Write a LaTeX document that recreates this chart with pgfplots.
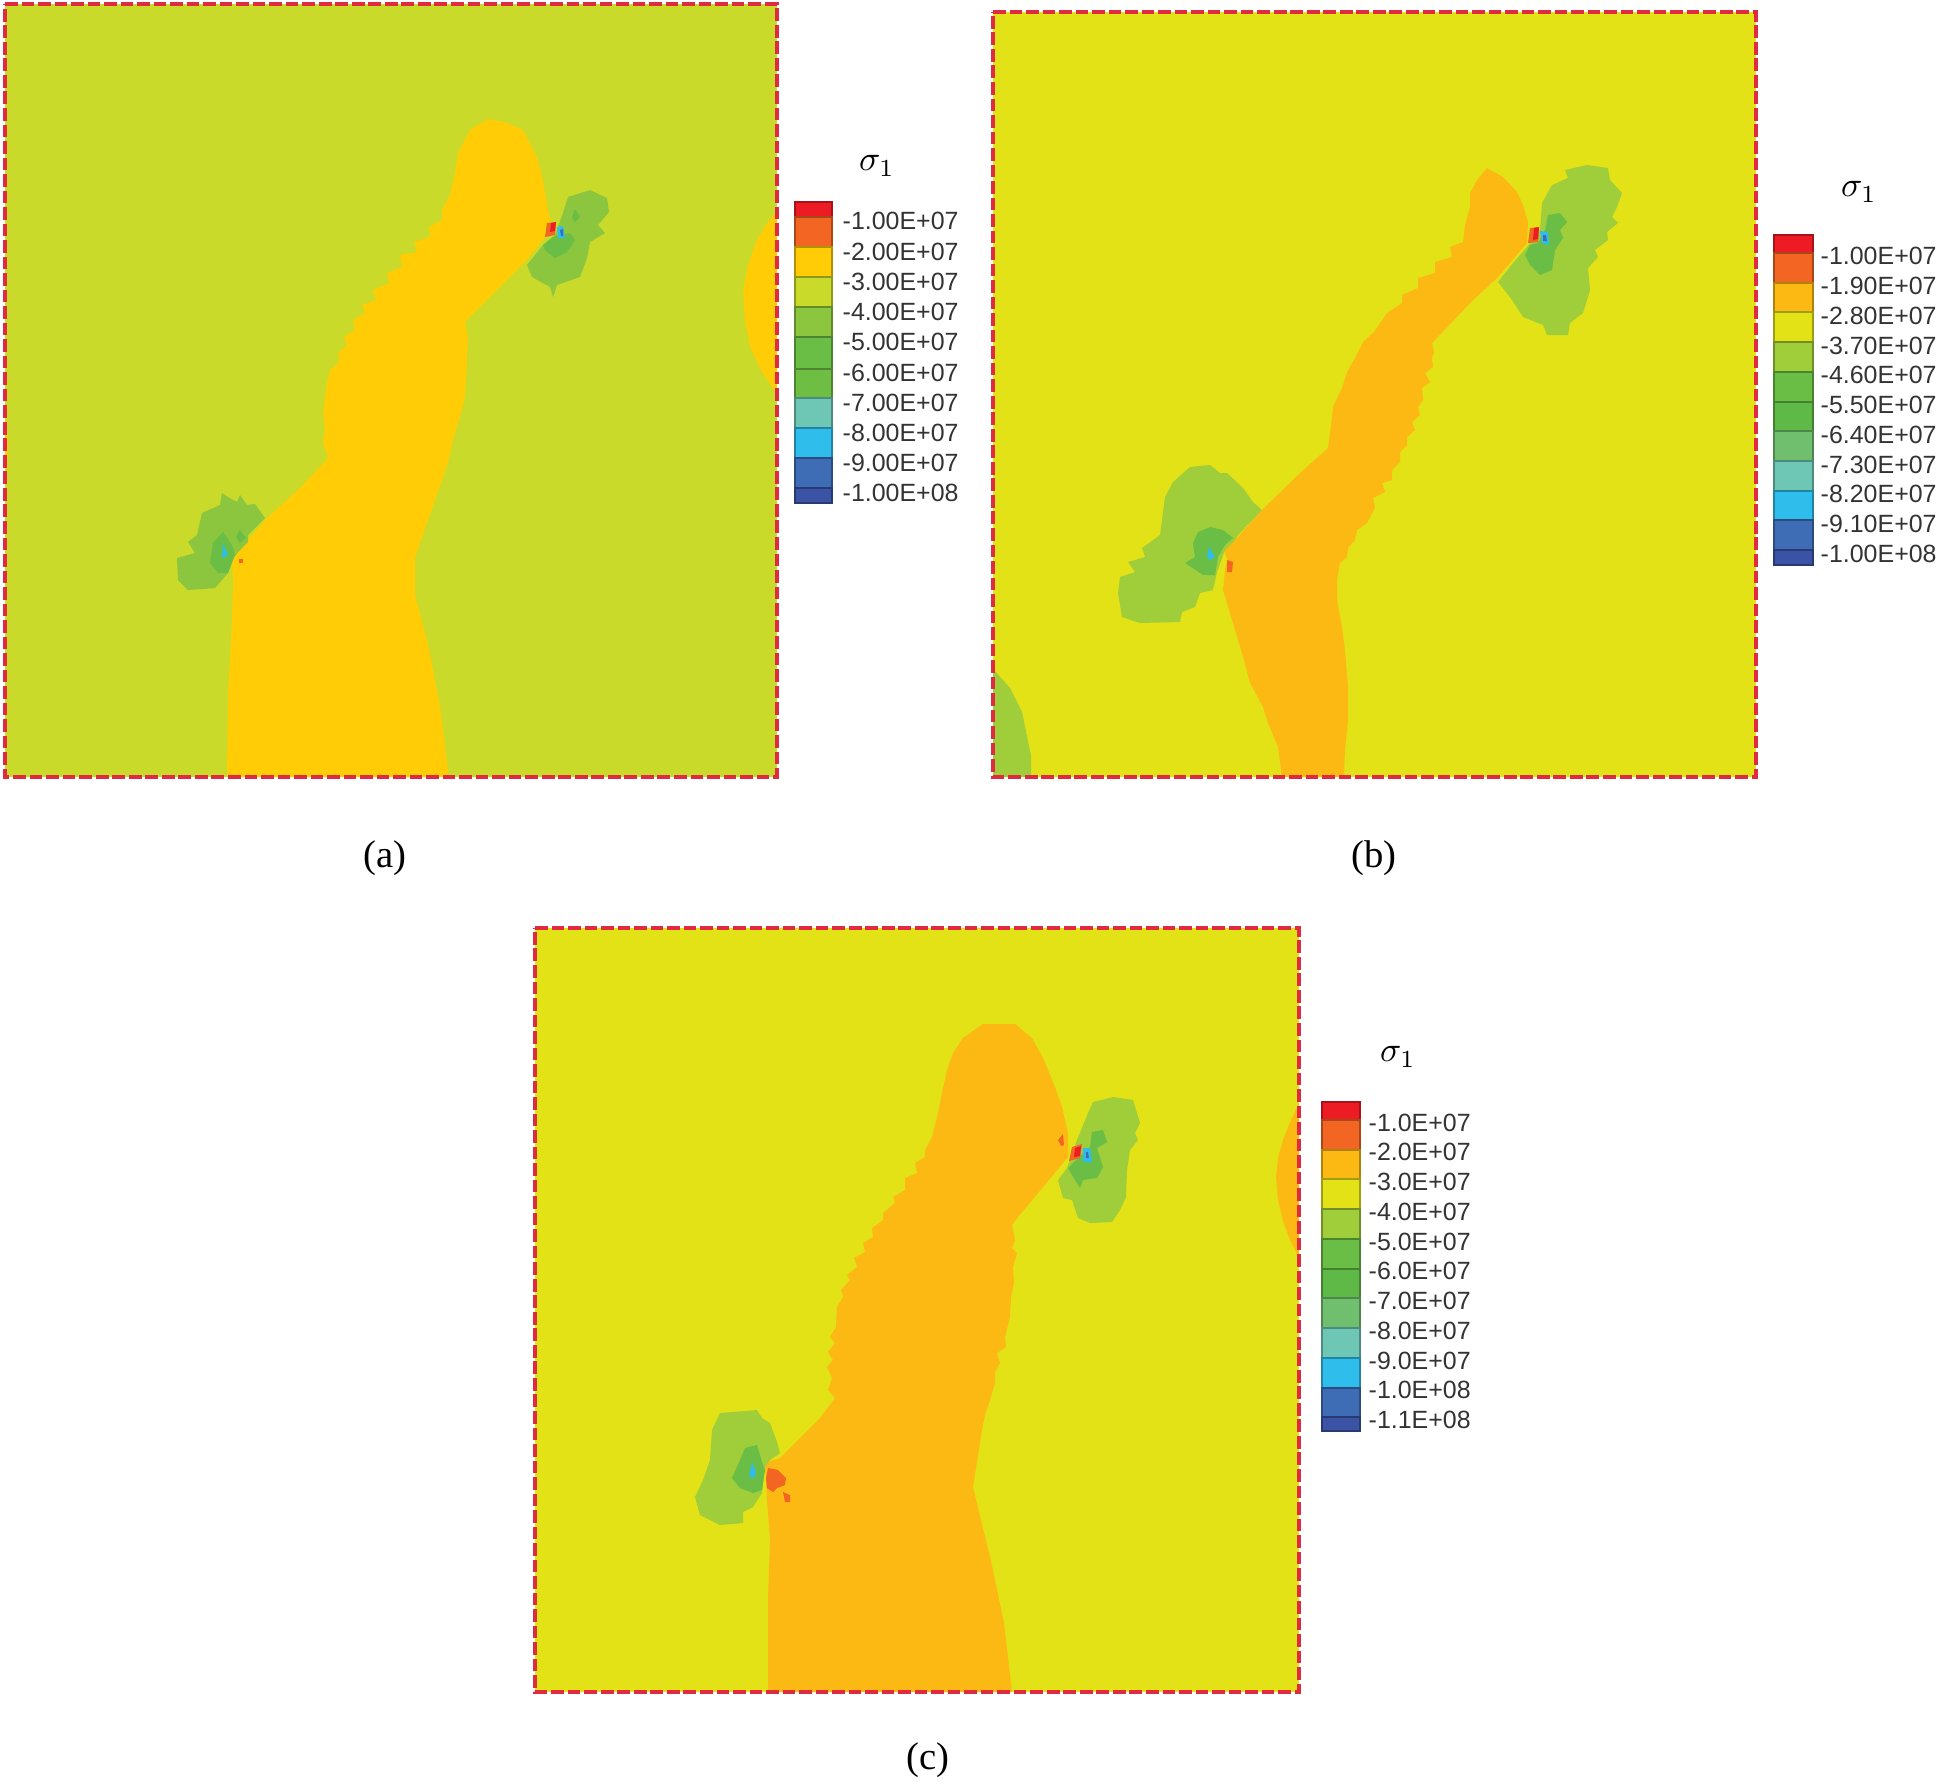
\documentclass[border=0pt]{standalone}
\usepackage{pgfplots}
\pgfplotsset{compat=1.18}
\usepackage{fontspec}
\setmainfont{Liberation Sans}
\newfontfamily\capfont{Liberation Serif}

\definecolor{cRed}{HTML}{ED1C24}
\definecolor{cOrg}{HTML}{F26522}
\definecolor{cGold}{HTML}{FFCC05}
\definecolor{cAmb}{HTML}{FDB913}
\definecolor{cLimeA}{HTML}{C9DA2A}
\definecolor{cLimeB}{HTML}{E3E217}
\definecolor{cLgA}{HTML}{8CC63F}
\definecolor{cLgB}{HTML}{A0CD3A}
\definecolor{cGrn}{HTML}{6ABD45}
\definecolor{cGrnA}{HTML}{6FBE44}
\definecolor{cGrnM}{HTML}{5FB946}
\definecolor{cGrn2}{HTML}{6FBF6F}
\definecolor{cTeal}{HTML}{6EC6B4}
\definecolor{cCyan}{HTML}{2FBDEC}
\definecolor{cBlue}{HTML}{3F6DB5}
\definecolor{cDark}{HTML}{3A53A4}
\definecolor{cFrame}{HTML}{DF2A3F}
\definecolor{cTxt}{HTML}{333333}

% all coordinates are pixels of the reference
\pgfplotsset{panel/.style={
  scale only axis, width=19.43cm, height=17.91cm,
  xmin=0, xmax=1943, ymin=0, ymax=1791, y dir=reverse,
  hide axis, clip=false}}
\newcommand\cell[5]{\addplot[fill=#1, draw=#1!70!black, line width=.35pt] coordinates {(#2,#4)(#3,#4)(#3,#5)(#2,#5)} --cycle;}
\newcommand\lab[3]{\node[anchor=west, inner sep=0pt, text=cTxt, font=\fontsize{7.1}{8}\selectfont] at (axis cs:#1,#2) {#3};}
\newcommand\sig[2]{\node[inner sep=0pt, text=black, font=\fontsize{10}{12}\selectfont] at (axis cs:#1,#2) {$\sigma_1$};}
\newcommand\capt[3]{\node[inner sep=0pt, text=black, font=\capfont\fontsize{11}{13}\selectfont] at (axis cs:#1,#2) {#3};}
\newcommand\frm[4]{\addplot[draw=cFrame, line width=1.1pt, dash pattern=on 3.6pt off 1.1pt] coordinates {(#1,#3)(#2,#3)(#2,#4)(#1,#4)} --cycle;}
\newcommand\bg[5]{\addplot[fill=#1, draw=none] coordinates {(#2,#4)(#3,#4)(#3,#5)(#2,#5)} --cycle;}

\begin{document}
\begin{tikzpicture}
% ---------- (a)
\begin{axis}[panel]
\addplot[draw=none] coordinates {(0,0)(1943,1791)}; % keeps the page at full size
\bg{cLimeA}{5}{777}{4}{777}
\addplot[fill=cGold, draw=none] coordinates {
 (227,777)(228,694)(232,620)(233,580)(232,560)(238,553)(248,540)(267,518)(300,488)(328,458)
 (323,443)(325,430)(323,415)(325,397)(327,382)(330,370)(339,362)(338,353)(347,345)(344,337)
 (355,330)(353,320)(365,313)(362,305)(376,300)(373,290)(389,283)(387,273)(402,267)(400,255)
 (417,252)(414,242)(430,237)(429,227)(442,220)(442,210)(450,195)(455,173)(458,153)(470,130)
 (488,119)(505,122)(523,130)(537,157)(543,180)(548,210)(551,222)(545,237)(527,260)(465,322)
 (468,337)(467,363)(465,397)(460,417)(453,440)(448,463)(442,480)(415,558)(415,595)(428,644)
 (440,706)(449,777)} --cycle;
\addplot[fill=cGold, draw=none] coordinates {(777,211)(765,226)(756,242)(748,265)(743,291)(745,320)(750,347)(762,372)(777,394)} --cycle;
\addplot[fill=cGold, draw=none] coordinates {(5,408)(8,440)(8,460)(5,478)} --cycle;
% upper crack tip
\addplot[fill=cLgA, draw=none] coordinates {
 (568,197)(590,190)(607,198)(609,212)(598,225)(605,233)(590,242)(587,258)(580,277)(557,285)
 (553,297)(550,287)(532,277)(527,265)(543,245)(555,235)(563,213)} --cycle;
\addplot[fill=cGrn, draw=none] coordinates {(543,245)(553,237)(570,233)(575,240)(567,252)(555,258)(545,250)} --cycle;
\addplot[fill=cGrn, draw=none] coordinates {(575,209)(580,217)(575,222)(572,217)} --cycle;
\addplot[fill=cOrg, draw=none] coordinates {(547,223)(556,222)(555,235)(545,237)} --cycle;
\addplot[fill=cRed, draw=none] coordinates {(551,223)(556,222)(555,231)(550,232)} --cycle;
\addplot[fill=cCyan, draw=none] coordinates {(557,227)(563,226)(565,238)(558,238)} --cycle;
\addplot[fill=cBlue, draw=none] coordinates {(560,230)(563,229)(563,236)(561,236)} --cycle;
% lower crack tip
\addplot[fill=cLgA, draw=none] coordinates {
 (222,493)(228,497)(237,502)(240,495)(247,505)(255,504)(265,518)(248,535)(248,542)(238,552)
 (232,560)(228,573)(215,588)(188,590)(178,580)(177,558)(195,553)(188,542)(197,535)(202,513)(220,505)} --cycle;
\addplot[fill=cGrn, draw=none] coordinates {(223,532)(232,545)(235,555)(228,573)(218,573)(210,563)(213,543)} --cycle;
\addplot[fill=cGrn, draw=none] coordinates {(240,530)(246,538)(240,543)(236,537)} --cycle;
\addplot[fill=cCyan, draw=none] coordinates {(223,543)(228,555)(222,558)} --cycle;
\addplot[fill=cOrg, draw=none] coordinates {(239,559)(243,559)(243,563)(239,563)} --cycle;
\frm{5}{777}{4}{777}
\cell{cRed}{795}{832}{202}{217}
\cell{cOrg}{795}{832}{217}{247}
\cell{cGold}{795}{832}{247}{277}
\cell{cLimeA}{795}{832}{277}{307}
\cell{cLgA}{795}{832}{307}{337}
\cell{cGrn}{795}{832}{337}{369}
\cell{cGrnA}{795}{832}{369}{398}
\cell{cTeal}{795}{832}{398}{428}
\cell{cCyan}{795}{832}{428}{458}
\cell{cBlue}{795}{832}{458}{488}
\cell{cDark}{795}{832}{488}{503}
\lab{842}{221}{-1.00E+07}
\lab{842}{252}{-2.00E+07}
\lab{842}{282}{-3.00E+07}
\lab{842}{312}{-4.00E+07}
\lab{842}{342}{-5.00E+07}
\lab{842}{373}{-6.00E+07}
\lab{842}{403}{-7.00E+07}
\lab{842}{433}{-8.00E+07}
\lab{842}{463}{-9.00E+07}
\lab{842}{493}{-1.00E+08}
\sig{877}{166}
\capt{385}{858}{(a)}
\end{axis}
% ---------- (b)
\begin{axis}[panel]
\bg{cLimeB}{993}{1756}{12}{777}
\addplot[fill=cAmb, draw=none] coordinates {
 (1282,777)(1278,747)(1268,723)(1263,707)(1250,683)(1242,653)(1232,620)(1223,590)(1225,570)(1227,560)
 (1223,547)(1237,538)(1262,510)(1300,473)(1328,448)(1330,433)(1332,417)(1333,407)(1342,388)(1347,372)
 (1355,358)(1363,342)(1374,332)(1387,313)(1402,303)(1402,295)(1418,288)(1418,278)(1435,273)(1435,262)
 (1452,257)(1450,247)(1463,242)(1465,225)(1470,207)(1470,193)(1477,180)(1487,168)(1503,177)(1517,192)
 (1523,205)(1528,222)(1527,243)(1497,278)(1473,300)(1432,343)(1434,352)(1432,358)(1433,367)(1425,373)
 (1430,382)(1422,388)(1423,400)(1418,407)(1420,415)(1412,422)(1415,430)(1407,437)(1407,445)(1400,452)
 (1400,462)(1392,470)(1392,480)(1382,483)(1385,492)(1373,498)(1375,508)(1367,523)(1357,530)(1355,540)
 (1348,548)(1347,557)(1340,563)(1337,580)(1337,600)(1342,627)(1345,650)(1348,687)(1348,720)(1345,750)(1344,777)} --cycle;
\addplot[fill=cLgB, draw=none] coordinates {(993,669)(1010,688)(1022,712)(1031,756)(1031,777)(993,777)} --cycle;
% upper crack tip
\addplot[fill=cLgB, draw=none] coordinates {
 (1565,170)(1587,165)(1608,168)(1610,180)(1622,193)(1617,207)(1612,217)(1618,223)(1607,232)(1608,240)
 (1595,250)(1598,257)(1588,268)(1590,290)(1583,313)(1570,323)(1568,335)(1547,335)(1543,325)(1523,317)
 (1512,300)(1498,282)(1513,263)(1527,247)(1540,230)(1542,203)(1552,185)(1568,178)} --cycle;
\addplot[fill=cGrn, draw=none] coordinates {
 (1548,215)(1560,213)(1567,222)(1560,230)(1563,238)(1555,250)(1552,270)(1540,275)(1530,265)(1525,255)
 (1530,245)(1538,243)(1545,230)} --cycle;
\addplot[fill=cOrg, draw=none] coordinates {(1530,228)(1539,227)(1538,242)(1528,243)} --cycle;
\addplot[fill=cRed, draw=none] coordinates {(1534,228)(1539,227)(1538,239)(1533,240)} --cycle;
\addplot[fill=cCyan, draw=none] coordinates {(1540,231)(1548,232)(1549,245)(1542,243)} --cycle;
\addplot[fill=cBlue, draw=none] coordinates {(1543,235)(1546,235)(1547,241)(1543,241)} --cycle;
% lower crack tip
\addplot[fill=cLgB, draw=none] coordinates {
 (1190,467)(1210,465)(1220,473)(1227,473)(1243,488)(1253,502)(1262,510)(1238,535)(1235,540)(1225,550)
 (1217,572)(1213,590)(1200,593)(1195,607)(1182,612)(1180,622)(1140,623)(1122,617)(1118,593)(1120,577)
 (1135,572)(1128,562)(1145,557)(1142,548)(1160,535)(1165,497)(1173,482)} --cycle;
\addplot[fill=cGrn, draw=none] coordinates {
 (1198,532)(1210,527)(1223,530)(1233,538)(1225,545)(1218,557)(1215,575)(1203,575)(1185,563)(1195,557)(1193,543)} --cycle;
\addplot[fill=cCyan, draw=none] coordinates {(1209,547)(1215,557)(1210,560)(1207,557)} --cycle;
\addplot[fill=cOrg, draw=none] coordinates {(1227,560)(1233,562)(1232,572)(1227,572)} --cycle;
\frm{993}{1756}{12}{777}
\cell{cRed}{1774}{1813}{235}{253}
\cell{cOrg}{1774}{1813}{253}{283}
\cell{cAmb}{1774}{1813}{283}{312}
\cell{cLimeB}{1774}{1813}{312}{342}
\cell{cLgB}{1774}{1813}{342}{372}
\cell{cGrn}{1774}{1813}{372}{402}
\cell{cGrnM}{1774}{1813}{402}{431}
\cell{cGrn2}{1774}{1813}{431}{461}
\cell{cTeal}{1774}{1813}{461}{491}
\cell{cCyan}{1774}{1813}{491}{520}
\cell{cBlue}{1774}{1813}{520}{550}
\cell{cDark}{1774}{1813}{550}{565}
\lab{1820}{256}{-1.00E+07}
\lab{1820}{286}{-1.90E+07}
\lab{1820}{316}{-2.80E+07}
\lab{1820}{346}{-3.70E+07}
\lab{1820}{375}{-4.60E+07}
\lab{1820}{405}{-5.50E+07}
\lab{1820}{435}{-6.40E+07}
\lab{1820}{465}{-7.30E+07}
\lab{1820}{494}{-8.20E+07}
\lab{1820}{524}{-9.10E+07}
\lab{1820}{554}{-1.00E+08}
\sig{1859}{192}
\capt{1374}{858}{(b)}
\end{axis}
% ---------- (c)
\begin{axis}[panel]
\bg{cLimeB}{535}{1299}{928}{1692}
\addplot[fill=cAmb, draw=none] coordinates {
 (768,1692)(768,1598)(770,1540)(767,1500)(765,1463)(780,1458)(820,1418)(835,1398)(828,1390)(832,1378)
 (827,1367)(833,1360)(828,1352)(835,1343)(830,1337)(836,1327)(837,1307)(843,1297)(841,1290)(850,1280)
 (847,1275)(857,1267)(854,1258)(865,1252)(863,1243)(873,1237)(872,1228)(883,1220)(883,1213)(895,1203)
 (893,1197)(905,1190)(905,1178)(917,1173)(915,1163)(925,1157)(925,1150)(932,1137)(937,1117)(942,1093)
 (947,1070)(953,1053)(963,1038)(983,1024)(1015,1024)(1032,1038)(1043,1058)(1055,1087)(1062,1107)(1068,1133)
 (1068,1157)(1018,1217)(1012,1225)(1015,1240)(1012,1248)(1017,1253)(1013,1267)(1014,1283)(1011,1297)(1010,1317)
 (1005,1337)(1006,1347)(997,1353)(1000,1363)(995,1372)(995,1383)(990,1400)(985,1415)(982,1430)(973,1487)
 (991,1561)(1004,1623)(1012,1692)} --cycle;
\addplot[fill=cAmb, draw=none] coordinates {(1299,1103)(1290,1122)(1283,1140)(1278,1158)(1276,1177)(1278,1200)(1283,1221)(1290,1240)(1299,1258)} --cycle;
\addplot[fill=cOrg, draw=none] coordinates {(1058,1140)(1063,1134)(1064,1145)(1061,1146)} --cycle;
% upper crack tip
\addplot[fill=cLgB, draw=none] coordinates {
 (1093,1102)(1113,1097)(1133,1100)(1137,1113)(1140,1123)(1135,1133)(1138,1140)(1130,1150)(1127,1170)(1126,1197)
 (1120,1210)(1112,1222)(1090,1223)(1078,1218)(1072,1200)(1063,1198)(1058,1180)(1067,1168)(1077,1140)(1088,1113)} --cycle;
\addplot[fill=cGrn, draw=none] coordinates {
 (1092,1132)(1103,1130)(1107,1142)(1097,1148)(1103,1167)(1097,1178)(1083,1180)(1080,1188)(1075,1180)(1068,1168)
 (1083,1153)(1090,1147)} --cycle;
\addplot[fill=cOrg, draw=none] coordinates {(1072,1147)(1082,1144)(1080,1158)(1069,1161)} --cycle;
\addplot[fill=cRed, draw=none] coordinates {(1075,1148)(1081,1146)(1080,1156)(1074,1157)} --cycle;
\addplot[fill=cCyan, draw=none] coordinates {(1083,1148)(1090,1148)(1092,1162)(1083,1162)} --cycle;
\addplot[fill=cBlue, draw=none] coordinates {(1086,1152)(1088,1152)(1089,1158)(1086,1158)} --cycle;
% lower crack tip
\addplot[fill=cLgB, draw=none] coordinates {
 (720,1413)(757,1410)(762,1418)(770,1423)(777,1442)(780,1453)(770,1460)(765,1467)(763,1483)(762,1493)
 (753,1507)(743,1512)(743,1523)(720,1525)(700,1515)(695,1497)(703,1480)(710,1460)(712,1430)} --cycle;
\addplot[fill=cGrn, draw=none] coordinates {
 (745,1448)(757,1445)(762,1462)(765,1470)(762,1490)(753,1493)(740,1488)(732,1478)(740,1460)} --cycle;
\addplot[fill=cCyan, draw=none] coordinates {(752,1462)(756,1472)(755,1477)(749,1477)} --cycle;
\addplot[fill=cOrg, draw=none] coordinates {
 (768,1468)(778,1470)(786,1478)(785,1485)(777,1488)(773,1492)(767,1488)(766,1478)} --cycle;
\addplot[fill=cOrg, draw=none] coordinates {(783,1492)(790,1495)(790,1502)(785,1502)} --cycle;
\frm{535}{1299}{928}{1692}
\cell{cRed}{1322}{1360}{1102}{1120}
\cell{cOrg}{1322}{1360}{1120}{1150}
\cell{cAmb}{1322}{1360}{1150}{1179}
\cell{cLimeB}{1322}{1360}{1179}{1209}
\cell{cLgB}{1322}{1360}{1209}{1239}
\cell{cGrn}{1322}{1360}{1239}{1269}
\cell{cGrnM}{1322}{1360}{1269}{1298}
\cell{cGrn2}{1322}{1360}{1298}{1328}
\cell{cTeal}{1322}{1360}{1328}{1358}
\cell{cCyan}{1322}{1360}{1358}{1388}
\cell{cBlue}{1322}{1360}{1388}{1417}
\cell{cDark}{1322}{1360}{1417}{1431}
\lab{1368}{1123}{-1.0E+07}
\lab{1368}{1152}{-2.0E+07}
\lab{1368}{1182}{-3.0E+07}
\lab{1368}{1212}{-4.0E+07}
\lab{1368}{1242}{-5.0E+07}
\lab{1368}{1271}{-6.0E+07}
\lab{1368}{1301}{-7.0E+07}
\lab{1368}{1331}{-8.0E+07}
\lab{1368}{1361}{-9.0E+07}
\lab{1368}{1390}{-1.0E+08}
\lab{1368}{1420}{-1.1E+08}
\sig{1398}{1057}
\capt{928}{1760}{(c)}
\end{axis}
\end{tikzpicture}
\end{document}
